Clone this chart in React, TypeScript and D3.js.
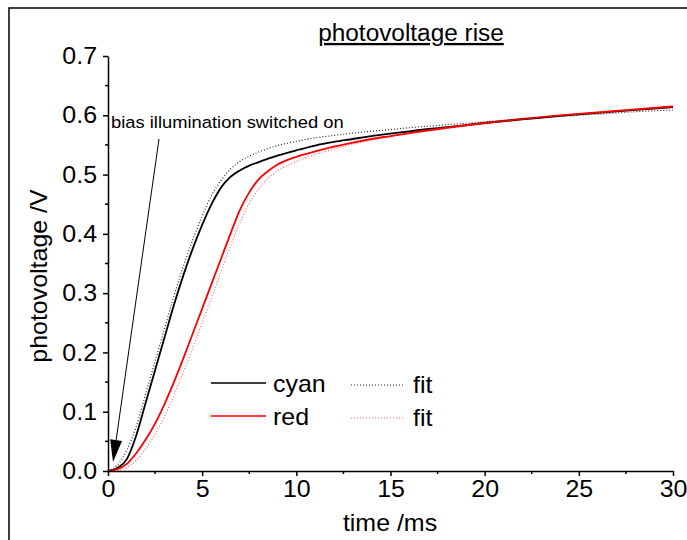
import React, { useRef, useEffect } from 'react';
import * as d3 from 'd3';

// time axis samples (ms)
const times = [0, 0.5, 1, 1.5, 2, 2.5, 3, 3.5, 4, 4.5, 5, 5.5, 6, 6.5, 7, 7.5, 8, 8.5, 9, 10, 11, 12, 13, 14, 15, 16, 18, 20, 22, 24, 26, 28, 30];
// photovoltage (V)
const cyanData = [0, 0.005, 0.02, 0.06, 0.115, 0.17, 0.225, 0.28, 0.33, 0.375, 0.415, 0.45, 0.478, 0.496, 0.507, 0.515, 0.521, 0.527, 0.532, 0.541, 0.549, 0.555, 0.56, 0.565, 0.569, 0.573, 0.58, 0.587, 0.593, 0.599, 0.604, 0.609, 0.614];
const cyanFit = [0, 0.01, 0.035, 0.075, 0.13, 0.185, 0.24, 0.295, 0.345, 0.39, 0.43, 0.465, 0.49, 0.509, 0.522, 0.531, 0.538, 0.544, 0.549, 0.556, 0.562, 0.566, 0.57, 0.573, 0.576, 0.579, 0.584, 0.589, 0.594, 0.598, 0.602, 0.606, 0.609];
const redData = [0, 0.003, 0.012, 0.03, 0.053, 0.08, 0.113, 0.15, 0.19, 0.232, 0.274, 0.316, 0.358, 0.4, 0.44, 0.47, 0.492, 0.506, 0.517, 0.53, 0.539, 0.547, 0.554, 0.56, 0.565, 0.57, 0.579, 0.587, 0.594, 0.6, 0.605, 0.61, 0.615];
const redFit = [0, 0.001, 0.006, 0.018, 0.038, 0.062, 0.092, 0.128, 0.167, 0.208, 0.25, 0.293, 0.336, 0.379, 0.418, 0.452, 0.476, 0.494, 0.506, 0.522, 0.534, 0.543, 0.551, 0.558, 0.564, 0.569, 0.578, 0.586, 0.593, 0.599, 0.604, 0.609, 0.613];

const xTicks = [0, 5, 10, 15, 20, 25, 30];
const yTicks = [0, 0.1, 0.2, 0.3, 0.4, 0.5, 0.6, 0.7];
const legendNames = ['cyan', 'red'];
const fitNames = ['fit', 'fit'];

const FONT = '"Liberation Sans", Arial, sans-serif';
const SX = 1.04; // text in the original is a touch wide

export default function App() {
  const svgRef = useRef<SVGSVGElement>(null);

  useEffect(() => {
    const svg = d3.select(svgRef.current);
    svg.selectAll('*').remove();

    const x = d3.scaleLinear().domain([0, 30]).range([108, 673]);
    const y = d3.scaleLinear().domain([0, 0.7]).range([471, 56]);

    // outer frame
    svg.append('rect')
      .attr('x', 9).attr('y', 8)
      .attr('width', 700).attr('height', 560)
      .attr('fill', 'none').attr('stroke', '#000').attr('stroke-width', 1.5);

    const line = (vals: number[]) =>
      d3.line<number>()
        .x((d, i) => x(times[i]))
        .y(d => y(d))
        .curve(d3.curveMonotoneX)(vals);

    const series = [
      { v: cyanData, color: '#000', dash: null, w: 1.8, op: 1 },
      { v: redData, color: '#ff0000', dash: null, w: 1.8, op: 1 },
      { v: cyanFit, color: '#000', dash: '1,2', w: 1.2, op: 0.85 },
      { v: redFit, color: '#ff0000', dash: '1,2', w: 1.2, op: 0.6 },
    ];
    svg.selectAll('.series')
      .data(series)
      .join('path')
      .attr('class', 'series')
      .attr('d', d => line(d.v))
      .attr('fill', 'none')
      .attr('stroke', d => d.color)
      .attr('stroke-width', d => d.w)
      .attr('stroke-opacity', d => d.op)
      .attr('stroke-dasharray', d => d.dash);

    // axes
    const xAxis = d3.axisBottom(x).tickValues(xTicks).tickSize(5).tickSizeOuter(0).tickPadding(4)
      .tickFormat(d3.format('d'));
    const gx = svg.append('g').attr('transform', 'translate(0,471)').call(xAxis);
    gx.append('g').selectAll('line')
      .data(d3.range(2.5, 30, 5))
      .join('line')
      .attr('x1', d => x(d)).attr('x2', d => x(d))
      .attr('y1', 0).attr('y2', 3)
      .attr('stroke', '#000');

    const yAxis = d3.axisLeft(y).tickValues(yTicks).tickSize(5).tickSizeOuter(0).tickPadding(6)
      .tickFormat(d3.format('.1f'));
    const gy = svg.append('g').attr('transform', 'translate(108,0)').call(yAxis);
    gy.append('g').selectAll('line')
      .data(d3.range(0.05, 0.7, 0.1))
      .join('line')
      .attr('x1', 0).attr('x2', -3)
      .attr('y1', d => y(d)).attr('y2', d => y(d))
      .attr('stroke', '#000');

    [gx, gy].forEach(g => {
      g.selectAll('path, line').attr('stroke', '#000').attr('stroke-width', 1.5);
      g.selectAll('text')
        .attr('font-family', FONT).attr('font-size', 24).attr('fill', '#000')
        .attr('transform', `scale(${SX},1)`);
    });
    gx.selectAll('.tick text').attr('x', 0);
    gy.selectAll('.tick text').attr('x', -11 / SX);

    // axis titles
    svg.append('text')
      .attr('transform', `translate(390,531) scale(${SX},1)`)
      .attr('text-anchor', 'middle')
      .attr('font-family', FONT).attr('font-size', 24)
      .text('time /ms');
    svg.append('text')
      .attr('transform', `translate(47,276) rotate(-90) scale(${SX},1)`)
      .attr('text-anchor', 'middle')
      .attr('font-family', FONT).attr('font-size', 24)
      .text('photovoltage /V');

    // title
    svg.append('text')
      .attr('transform', `translate(411,41) scale(1.06,1)`)
      .attr('text-anchor', 'middle')
      .attr('font-family', FONT).attr('font-size', 23)
      .attr('text-decoration', 'underline')
      .text('photovoltage rise');

    // annotation
    svg.append('text')
      .attr('transform', `translate(111,128) scale(1.08,1)`)
      .attr('font-family', FONT).attr('font-size', 17)
      .text('bias illumination switched on');
    const tip: [number, number] = [113, 462];
    const start: [number, number] = [159, 139];
    const dx = start[0] - tip[0], dy = start[1] - tip[1];
    const len = Math.hypot(dx, dy);
    const ux = dx / len, uy = dy / len;
    const bx = tip[0] + ux * 22, by = tip[1] + uy * 22;
    svg.append('line')
      .attr('x1', start[0]).attr('y1', start[1]).attr('x2', bx).attr('y2', by)
      .attr('stroke', '#000').attr('stroke-width', 1);
    svg.append('polygon')
      .attr('points', [tip, [bx - uy * 6, by + ux * 6], [bx + uy * 6, by - ux * 6]].map(p => p.join(',')).join(' '))
      .attr('fill', '#000');

    // legend
    const leg = svg.append('g');
    const rowY = [383, 416];
    const colors = ['#000', '#ff0000'];
    legendNames.forEach((name, i) => {
      leg.append('line')
        .attr('x1', 211).attr('x2', 266).attr('y1', rowY[i]).attr('y2', rowY[i])
        .attr('stroke', colors[i]).attr('stroke-width', 1.5);
      leg.append('text')
        .attr('transform', `translate(273,${rowY[i] + 9}) scale(${SX},1)`)
        .attr('font-family', FONT).attr('font-size', 24)
        .text(name);
    });
    fitNames.forEach((name, i) => {
      leg.append('line')
        .attr('x1', 351).attr('x2', 403).attr('y1', rowY[i] + 2).attr('y2', rowY[i] + 2)
        .attr('stroke', colors[i]).attr('stroke-width', 1.2)
        .attr('stroke-opacity', i === 0 ? 0.85 : 0.6)
        .attr('stroke-dasharray', '1,2');
      leg.append('text')
        .attr('transform', `translate(413,${rowY[i] + 10}) scale(${SX},1)`)
        .attr('font-family', FONT).attr('font-size', 24)
        .text(name);
    });
  }, []);

  return (
    <svg ref={svgRef} width={687} height={540}
      style={{ position: 'absolute', left: 0, top: 0, background: '#fff' }} />
  );
}
